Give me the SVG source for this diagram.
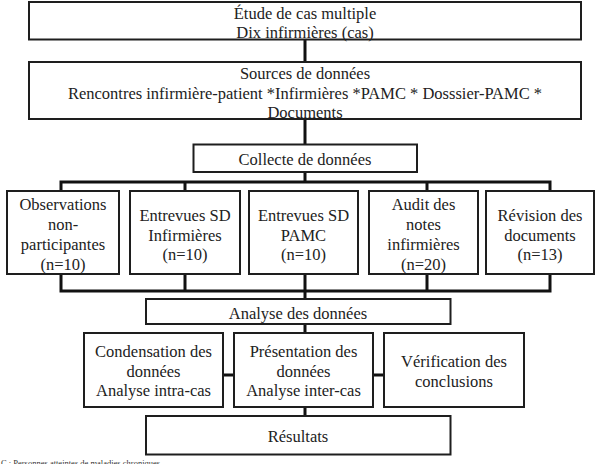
<svg xmlns="http://www.w3.org/2000/svg" width="599" height="464" viewBox="0 0 599 464">
<style>
.box{fill:#fff;stroke:#1e1e1e;stroke-width:2}
.t{font-family:"Liberation Serif","Times New Roman",serif;font-size:16.5px;fill:#222;text-anchor:middle}
.c{fill:none;stroke:#111;stroke-width:3;stroke-linejoin:miter}
.fn{font-family:"Liberation Serif",serif;font-size:8.5px;fill:#333}
</style>
<rect width="599" height="464" fill="#fff"/>
<g id="connectors">
<path class="c" d="M305 40V62M305 119V144M305 172V182M61 191V182H550V191M185 182V191M427 182V191"/>
<path class="c" d="M61 274V291H550V274M185 274V291M305 274V299M427 274V291"/>
<path class="c" d="M305 324V333M223 375H234M373 375H384M305 407V416"/>
</g>
<g id="n1"><rect class="box" x="29" y="2" width="552" height="37.5"/>
<text class="t" x="305" y="18.5">Étude de cas multiple</text>
<text class="t" x="305" y="38">Dix infirmières (cas)</text></g>
<g id="n2"><rect class="box" x="29" y="62" width="552" height="57"/>
<text class="t" x="305" y="78.5">Sources de données</text>
<text class="t" x="305" y="98.5">Rencontres infirmière-patient *Infirmières *PAMC * Dosssier-PAMC *</text>
<text class="t" x="305" y="118">Documents</text></g>
<g id="n3"><rect class="box" x="193.5" y="144.5" width="223.5" height="27.5"/>
<text class="t" x="305" y="165">Collecte de données</text></g>
<g id="n4"><rect class="box" x="7" y="191" width="112" height="83"/>
<text class="t" x="63" y="210">Observations</text>
<text class="t" x="63" y="230">non-</text>
<text class="t" x="63" y="250">participantes</text>
<text class="t" x="63" y="270">(n=10)</text></g>
<g id="n5"><rect class="box" x="130" y="191" width="110" height="83"/>
<text class="t" x="185" y="221">Entrevues SD</text>
<text class="t" x="185" y="240.5">Infirmières</text>
<text class="t" x="185" y="260">(n=10)</text></g>
<g id="n6"><rect class="box" x="249" y="191" width="109" height="83"/>
<text class="t" x="303.5" y="221">Entrevues SD</text>
<text class="t" x="303.5" y="240.5">PAMC</text>
<text class="t" x="303.5" y="260">(n=10)</text></g>
<g id="n7"><rect class="box" x="369" y="191" width="109" height="83"/>
<text class="t" x="423.5" y="210">Audit des</text>
<text class="t" x="423.5" y="230">notes</text>
<text class="t" x="423.5" y="250">infirmières</text>
<text class="t" x="423.5" y="270">(n=20)</text></g>
<g id="n8"><rect class="box" x="486" y="191" width="108" height="83"/>
<text class="t" x="540" y="221">Révision des</text>
<text class="t" x="540" y="240.5">documents</text>
<text class="t" x="540" y="260">(n=13)</text></g>
<g id="n9"><rect class="box" x="146" y="299" width="304.5" height="25"/>
<text class="t" x="298" y="319">Analyse des données</text></g>
<g id="n10"><rect class="box" x="84" y="333" width="139" height="74"/>
<text class="t" x="153.5" y="357">Condensation des</text>
<text class="t" x="153.5" y="376.5">données</text>
<text class="t" x="153.5" y="396">Analyse intra-cas</text></g>
<g id="n11"><rect class="box" x="234" y="333" width="139" height="74"/>
<text class="t" x="303.5" y="357">Présentation des</text>
<text class="t" x="303.5" y="376.5">données</text>
<text class="t" x="303.5" y="396">Analyse inter-cas</text></g>
<g id="n12"><rect class="box" x="384" y="333" width="140" height="74"/>
<text class="t" x="454" y="367">Vérification des</text>
<text class="t" x="454" y="387">conclusions</text></g>
<g id="n13"><rect class="box" x="146" y="416" width="304.5" height="38.5"/>
<text class="t" x="298" y="442">Résultats</text></g>
<text class="fn" x="1" y="466">C : Personnes atteintes de maladies chroniques</text>
</svg>
